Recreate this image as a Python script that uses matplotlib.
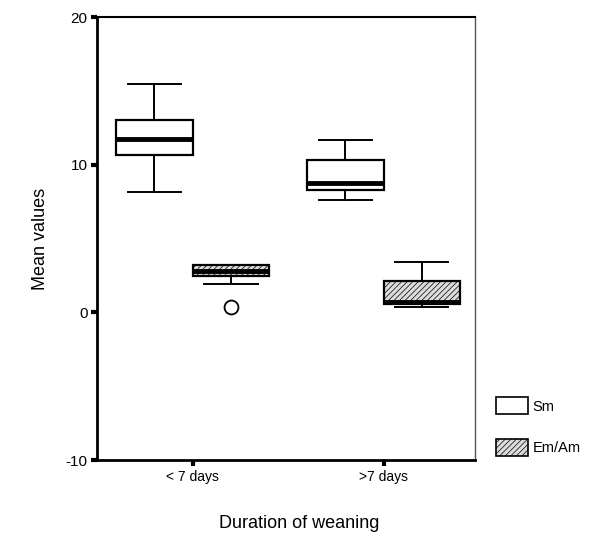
import matplotlib
matplotlib.use("Agg")
import matplotlib.pyplot as plt
from matplotlib.patches import Patch

plt.rcParams['font.family'] = ['Liberation Sans', 'DejaVu Sans']
plt.rcParams['hatch.color'] = '#b4b4b4'
plt.rcParams['hatch.linewidth'] = 0.5

# data
groups = ["< 7 days", ">7 days"]
series = ["Sm", "Em/Am"]
# per series, per group: whislo, q1, med, q3, whishi
sm_stats = [[8.15, 10.65, 11.75, 13.0, 15.45],
            [7.6, 8.3, 8.75, 10.35, 11.65]]
em_stats = [[1.95, 2.5, 2.8, 3.2, 3.2],
            [0.4, 0.6, 0.7, 2.1, 3.4]]
em_fliers = [[0.4], []]

fills = ["white", "#dcdcdc"]
hatches = [None, "//////"]


def make_stats(rows, fliers=None):
	out = []
	for i, r in enumerate(rows):
		out.append(dict(whislo=r[0], q1=r[1], med=r[2], q3=r[3], whishi=r[4],
						fliers=fliers[i] if fliers else []))
	return out


fig = plt.figure(figsize=(6, 5.53), dpi=100)
ax = fig.add_axes([0.162, 0.168, 0.63, 0.801])

all_stats = [make_stats(sm_stats), make_stats(em_stats, em_fliers)]
offsets = [-0.2, 0.2]
for k in range(2):
	pos = [g + 1 + offsets[k] for g in range(len(groups))]
	bp = ax.bxp(all_stats[k], positions=pos, widths=0.4, patch_artist=True,
				boxprops=dict(facecolor=fills[k], edgecolor="black", linewidth=1.6, hatch=hatches[k]),
				medianprops=dict(color="black", linewidth=3.5),
				whiskerprops=dict(color="black", linewidth=1.4),
				capprops=dict(color="black", linewidth=1.4),
				capwidths=0.28,
				flierprops=dict(marker="o", markerfacecolor="white", markeredgecolor="black",
								markersize=10, markeredgewidth=1.3))

ax.set_xlim(0.5, 2.48)
ax.set_ylim(-10, 20)
ax.set_xticks([1, 2])
ax.set_xticklabels(groups, fontsize=10)
ax.set_yticks([-10, 0, 10, 20])
ax.set_yticklabels(["-10", "0", "10", "20"], fontsize=11)
ax.tick_params(direction="out", length=4, width=3, pad=3)

ax.spines["left"].set_linewidth(2)
ax.spines["bottom"].set_linewidth(2)
ax.spines["top"].set_linewidth(1.5)
ax.spines["right"].set_linewidth(1)
ax.spines["right"].set_color("#555555")

ax.set_ylabel("Mean values", fontsize=13, labelpad=12)
fig.text(0.498, 0.046, "Duration of weaning", fontsize=13, ha="center")

handles = [Patch(facecolor=fills[i], edgecolor="black", linewidth=1.2, hatch=hatches[i])
		   for i in range(len(series))]
fig.legend(handles, ["Sm", "Em/Am"], loc="upper left", bbox_to_anchor=(0.805, 0.305),
		   frameon=False, fontsize=10.5, handlelength=2.2, handleheight=1.35,
		   labelspacing=1.75, handletextpad=0.3)

fig.savefig("out.png", dpi=100)
